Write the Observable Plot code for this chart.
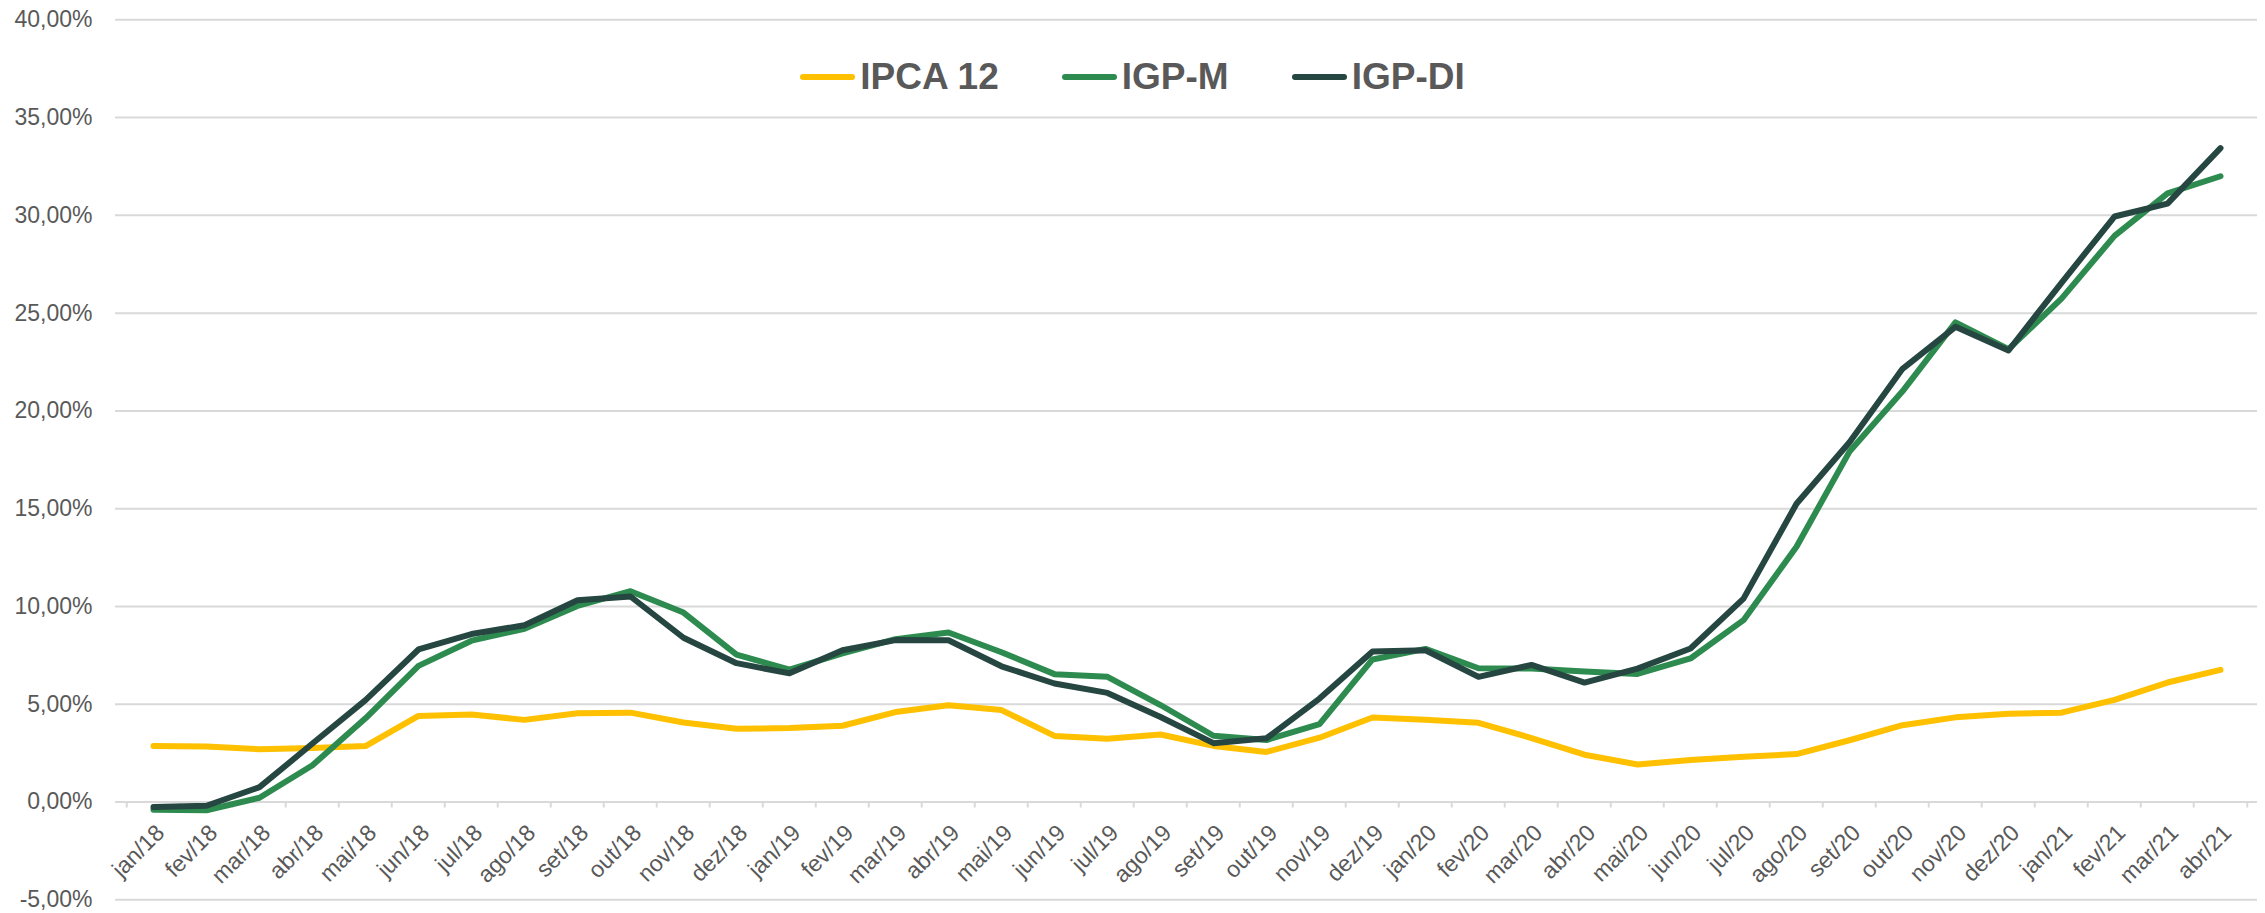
<!DOCTYPE html>
<html>
<head>
<meta charset="utf-8">
<script src="https://cdn.jsdelivr.net/npm/d3@7"></script>
<script src="https://cdn.jsdelivr.net/npm/@observablehq/plot@0.6"></script>
<style>
  html, body { margin: 0; padding: 0; background: #fff; }
  #wrap { position: relative; width: 2265px; height: 913px; font-family: "Liberation Sans", Arial, sans-serif; }
  #legend { position: absolute; left: 0; top: 57px; width: 2265px; height: 40px; display: flex; justify-content: center; align-items: center; gap: 63px; pointer-events: none; }
  .item { display: flex; align-items: center; }
  .sw { width: 55px; height: 6px; border-radius: 3px; }
  .lab { margin-left: 5px; font-size: 37px; line-height: 40px; font-weight: bold; color: #595959; }
</style>
</head>
<body>
<div id="wrap"><div id="chart"></div><div id="legend"></div></div>
<script>
const months = ["jan/18","fev/18","mar/18","abr/18","mai/18","jun/18","jul/18","ago/18","set/18","out/18","nov/18","dez/18",
  "jan/19","fev/19","mar/19","abr/19","mai/19","jun/19","jul/19","ago/19","set/19","out/19","nov/19","dez/19",
  "jan/20","fev/20","mar/20","abr/20","mai/20","jun/20","jul/20","ago/20","set/20","out/20","nov/20","dez/20",
  "jan/21","fev/21","mar/21","abr/21"];

const ipca12 = [2.87, 2.84, 2.70, 2.76, 2.86, 4.40, 4.48, 4.20, 4.54, 4.57, 4.07, 3.75,
  3.78, 3.90, 4.60, 4.95, 4.70, 3.38, 3.23, 3.45, 2.87, 2.56, 3.29, 4.32,
  4.21, 4.05, 3.27, 2.42, 1.92, 2.15, 2.32, 2.45, 3.16, 3.93, 4.33, 4.51,
  4.57, 5.22, 6.11, 6.76];

const igpm = [-0.40, -0.42, 0.22, 1.88, 4.28, 6.96, 8.25, 8.86, 10.03, 10.78, 9.69, 7.54,
  6.77, 7.60, 8.33, 8.67, 7.66, 6.54, 6.40, 4.96, 3.39, 3.17, 3.98, 7.29,
  7.83, 6.84, 6.83, 6.68, 6.55, 7.34, 9.30, 13.05, 17.92, 21.00, 24.53, 23.16,
  25.74, 28.95, 31.12, 32.00];

const igpdi = [-0.26, -0.19, 0.76, 2.99, 5.21, 7.80, 8.59, 9.04, 10.32, 10.51, 8.40, 7.10,
  6.58, 7.76, 8.28, 8.27, 6.94, 6.06, 5.58, 4.35, 3.01, 3.26, 5.29, 7.70,
  7.76, 6.40, 7.01, 6.11, 6.82, 7.85, 10.40, 15.25, 18.40, 22.15, 24.30, 23.09,
  26.55, 29.94, 30.60, 33.44];

const seriesNames = ["IPCA 12", "IGP-M", "IGP-DI"];
const seriesColors = ["#FFC000", "#2E8B50", "#264641"];
const yTicks = [-5, 0, 5, 10, 15, 20, 25, 30, 35, 40];

const seriesValues = [ipca12, igpm, igpdi];
const data = seriesNames.flatMap((s, k) => months.map((m, i) => ({month: m, series: s, value: seriesValues[k][i]})));

const W = 2265, H = 913, ML = 115, MR = 8, MT = 19.3, MB = 13.7;
const step = (W - ML - MR) / months.length;
const fmt = d => d.toFixed(2).replace(".", ",") + "%";

const chart = Plot.plot({
  width: W, height: H,
  marginLeft: ML, marginRight: MR, marginTop: MT, marginBottom: MB,
  x: {type: "point", domain: months, padding: 0.5, axis: null},
  y: {domain: [-5, 40], axis: null},
  color: {domain: seriesNames, range: seriesColors},
  style: {fontFamily: "'Liberation Sans', Arial, sans-serif", background: "white"},
  marks: [
    Plot.ruleY(yTicks, {y: d => d, stroke: "#d9d9d9", strokeWidth: 2}),
    Plot.ruleX(months, {x: d => d, y1: () => 0, y2: () => 0, insetBottom: -6, dx: -step / 2, stroke: "#d9d9d9", strokeWidth: 2}),
    Plot.ruleX(months.slice(-1), {x: d => d, y1: () => 0, y2: () => 0, insetBottom: -6, dx: step / 2, stroke: "#d9d9d9", strokeWidth: 2}),
    Plot.text(yTicks, {y: d => d, frameAnchor: "left", dx: -23, textAnchor: "end", text: fmt, fontSize: 23, fill: "#595959"}),
    Plot.text(months, {x: d => d, y: () => 0, text: d => d, rotate: -45, textAnchor: "end", dx: 7, dy: 27, fontSize: 23, fill: "#595959"}),
    Plot.line(data, {x: "month", y: "value", z: "series", stroke: "series", strokeWidth: 6, strokeLinecap: "round", strokeLinejoin: "round"})
  ]
});
document.getElementById("chart").appendChild(chart);

const legend = document.getElementById("legend");
seriesNames.forEach((s, k) => {
  const item = document.createElement("div");
  item.className = "item";
  const sw = document.createElement("div");
  sw.className = "sw";
  sw.style.background = seriesColors[k];
  const lab = document.createElement("div");
  lab.className = "lab";
  lab.textContent = s;
  item.appendChild(sw);
  item.appendChild(lab);
  legend.appendChild(item);
});
</script>
</body>
</html>
